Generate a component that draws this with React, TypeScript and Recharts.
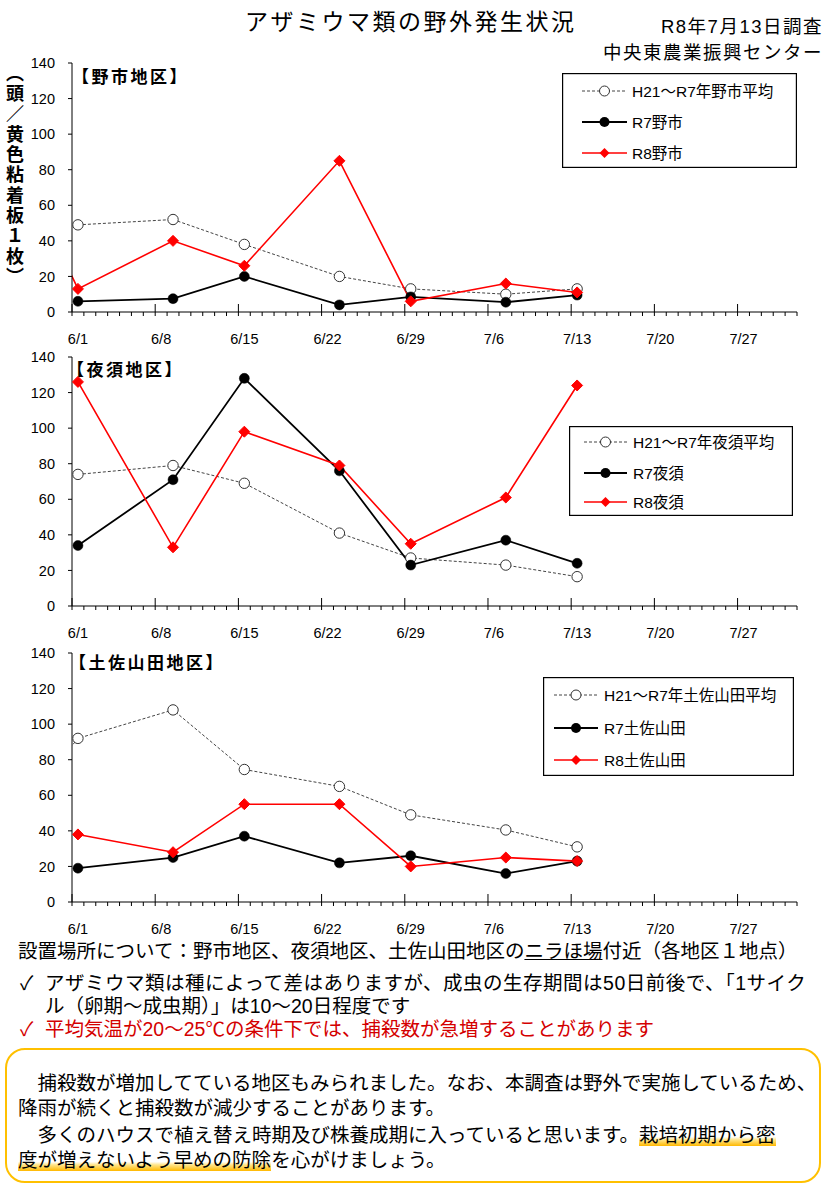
import React from "react";
import { Legend, Line, LineChart, XAxis, YAxis } from "recharts";

const FONT = '"Liberation Sans", "Noto Sans CJK JP", sans-serif';
const CJK = '"Noto Sans CJK JP", "Noto Sans", sans-serif';

// survey dates (the 5/26 point only shows as a stub at the left edge)
const surveyDates = ["5/26", "6/1", "6/9", "6/15", "6/23", "6/29", "7/7", "7/13"];
const weekLabels = ["6/1", "6/8", "6/15", "6/22", "6/29", "7/6", "7/13", "7/20", "7/27"];
const yTicks = [0, 20, 40, 60, 80, 100, 120, 140];

// 野市
const noichiAvg = [null, 49, 52, 38, 20, 13, 10, 13];
const noichiR7 = [null, 6, 7.5, 20, 4, 8.5, 5.5, 9.5];
const noichiR8 = [98, 13, 40, 26, 85, 6, 16, 11];

// 夜須
const yasuAvg = [null, 74, 79, 69, 41, 27, 23, 16.5];
const yasuR7 = [null, 34, 71, 128, 76, 23, 37, 24];
const yasuR8 = [null, 126, 33, 98, 79, 35, 61, 124];

// 土佐山田
const tosaAvg = [43, 92, 108, 74.5, 65, 49, 40.5, 31];
const tosaR7 = [null, 19, 25, 37, 22, 26, 16, 23];
const tosaR8 = [null, 38, 28, 55, 55, 20, 25, 23];

const dayOffset = (md: string) => {
  const [m, d] = md.split("/").map(Number);
  return (Date.UTC(2026, m - 1, d) - Date.UTC(2026, 5, 1)) / 86400000;
};

// one tick per day for the marks, labels centred in the day cell
const dayTicks = Array.from({ length: 62 }, (_, i) => i);
const labelTicks = weekLabels.map((l) => dayOffset(l) + 0.5);
const xTicks = [...dayTicks, ...labelTicks].sort((a, b) => a - b);

const renderDayTick = (props: any) => {
  const { x, y, payload } = props;
  const v: number = payload.value;
  if (Number.isInteger(v)) {
    const major = v % 7 === 0;
    return (
      <line key={`t${v}`} x1={x} x2={x} y1={major ? y - 8 : y} y2={y + 4} stroke="#000" strokeWidth={1} />
    );
  }
  const label = weekLabels.find((l) => dayOffset(l) + 0.5 === v) ?? "";
  return (
    <text key={`l${v}`} x={x} y={y + 32} textAnchor="middle" fontSize={14.5} fontFamily={FONT} fill="#000">
      {label}
    </text>
  );
};

const diamondDot = (props: any) => {
  const { cx, cy, index } = props;
  if (cx == null || cy == null) return <g key={`d${index}`} />;
  const s = 5.5;
  return (
    <path
      key={`d${index}`}
      d={`M${cx},${cy - s}L${cx + s},${cy}L${cx},${cy + s}L${cx - s},${cy}Z`}
      fill="#ff0000"
      stroke="#ff0000"
    />
  );
};

interface LegendGeom {
  left: number;
  top: number;
  w: number;
  h: number;
  rows: number[];
  x1: number;
  x2: number;
  tx: number;
}

function LegendBox({ names, g }: { names: string[]; g: LegendGeom }) {
  const mx = (g.x1 + g.x2) / 2;
  return (
    <svg width={g.w} height={g.h} style={{ display: "block" }}>
      <rect x={0.6} y={0.6} width={g.w - 1.2} height={g.h - 1.2} fill="#fff" stroke="#000" strokeWidth={1.2} />
      <line x1={g.x1} x2={g.x2} y1={g.rows[0]} y2={g.rows[0]} stroke="#444" strokeDasharray="3 2" />
      <circle cx={mx} cy={g.rows[0]} r={5} fill="#fff" stroke="#333" />
      <line x1={g.x1} x2={g.x2} y1={g.rows[1]} y2={g.rows[1]} stroke="#000" strokeWidth={1.8} />
      <circle cx={mx} cy={g.rows[1]} r={5} fill="#000" />
      <line x1={g.x1} x2={g.x2} y1={g.rows[2]} y2={g.rows[2]} stroke="#ff0000" strokeWidth={1.6} />
      <path
        d={`M${mx},${g.rows[2] - 5}L${mx + 5},${g.rows[2]}L${mx},${g.rows[2] + 5}L${mx - 5},${g.rows[2]}Z`}
        fill="#ff0000"
      />
      {names.map((n, i) => (
        <text key={n} x={g.tx} y={g.rows[i]} dominantBaseline="central" fontSize={15.5} fontFamily={FONT} fill="#000">
          {n}
        </text>
      ))}
    </svg>
  );
}

interface AreaProps {
  top: number;
  title: string;
  titleLeft: number;
  titleTop: number;
  names: string[];
  avg: (number | null)[];
  r7: (number | null)[];
  r8: (number | null)[];
  legend: LegendGeom;
}

function AreaChart({ top, title, titleLeft, titleTop, names, avg, r7, r8, legend }: AreaProps) {
  const data = surveyDates.map((d, i) => ({ x: dayOffset(d) + 0.5, avg: avg[i], r7: r7[i], r8: r8[i] }));
  return (
    <div style={{ position: "absolute", left: 0, top, width: 825, height: 300 }}>
      <LineChart width={825} height={300} data={data} margin={{ top: 13, right: 28, bottom: 0, left: 0 }}>
        <XAxis
          type="number"
          dataKey="x"
          domain={[0, 61]}
          ticks={xTicks}
          interval={0}
          allowDataOverflow
          height={38}
          tickSize={0}
          tickMargin={0}
          tickLine={false}
          axisLine={{ stroke: "#000" }}
          tick={renderDayTick}
        />
        <YAxis
          type="number"
          domain={[0, 140]}
          ticks={yTicks}
          interval={0}
          width={72}
          tickSize={4}
          tickMargin={13}
          axisLine={{ stroke: "#000" }}
          tickLine={{ stroke: "#000" }}
          tick={{ fontSize: 14.5, fill: "#000", fontFamily: FONT }}
        />
        <Legend
          layout="vertical"
          align="center"
          verticalAlign="middle"
          wrapperStyle={{ left: legend.left, top: legend.top, width: legend.w, height: legend.h }}
          content={() => <LegendBox names={names} g={legend} />}
        />
        <Line
          dataKey="avg"
          name={names[0]}
          stroke="#444"
          strokeWidth={1}
          strokeDasharray="3 2"
          dot={{ r: 5.2, fill: "#fff", stroke: "#333", strokeWidth: 1, strokeDasharray: "none" }}
          isAnimationActive={false}
        />
        <Line
          dataKey="r7"
          name={names[1]}
          stroke="#000"
          strokeWidth={1.8}
          dot={{ r: 5, fill: "#000", stroke: "#000", strokeWidth: 0.5 }}
          isAnimationActive={false}
        />
        <Line
          dataKey="r8"
          name={names[2]}
          stroke="#ff0000"
          strokeWidth={1.6}
          dot={diamondDot}
          isAnimationActive={false}
        />
      </LineChart>
      <div
        style={{
          position: "absolute",
          left: titleLeft,
          top: titleTop,
          fontSize: 17,
          lineHeight: "20px",
          fontWeight: 700,
          letterSpacing: 2.5,
          whiteSpace: "nowrap",
        }}
      >
        {title}
      </div>
    </div>
  );
}

const line = (top: number, left: number, extra?: React.CSSProperties): React.CSSProperties => ({
  position: "absolute",
  top,
  left,
  fontSize: 19.5,
  lineHeight: "20px",
  whiteSpace: "pre",
  ...extra,
});

const marker: React.CSSProperties = {
  background: "linear-gradient(to bottom, transparent 58%, #ffe58a 72%, #ffb800 100%)",
};

const IND = "\u3000";

export default function App() {
  return (
    <div
      style={{
        position: "absolute",
        left: 0,
        top: 0,
        width: 825,
        height: 1189,
        background: "#fff",
        fontFamily: FONT,
        color: "#000",
        overflow: "hidden",
      }}
    >
      <div style={{ position: "absolute", left: 245, top: 8, fontSize: 23, lineHeight: "28px", letterSpacing: 2.5, whiteSpace: "nowrap" }}>
        アザミウマ類の野外発生状況
      </div>
      <div style={{ position: "absolute", right: 2, top: 15, fontSize: 18.5, lineHeight: "24px", letterSpacing: 1.5, textAlign: "right", whiteSpace: "nowrap" }}>
        R8年7月13日調査
      </div>
      <div style={{ position: "absolute", right: 2, top: 41, fontSize: 18.5, lineHeight: "24px", letterSpacing: 1.5, textAlign: "right", whiteSpace: "nowrap" }}>
        中央東農業振興センター
      </div>
      <div
        style={{
          position: "absolute",
          left: 5,
          top: 64,
          width: 20,
          fontFamily: CJK,
          fontSize: 18,
          lineHeight: "20px",
          fontWeight: 700,
          letterSpacing: 2.3,
          writingMode: "vertical-rl",
          whiteSpace: "nowrap",
        }}
      >
        （頭／黄色粘着板１枚）
      </div>

      <AreaChart
        top={50}
        title="【野市地区】"
        titleLeft={72}
        titleTop={18}
        names={["H21～R7年野市平均", "R7野市", "R8野市"]}
        avg={noichiAvg}
        r7={noichiR7}
        r8={noichiR8}
        legend={{ left: 562, top: 23, w: 235, h: 95, rows: [18, 49, 80], x1: 20, x2: 65, tx: 70 }}
      />
      <AreaChart
        top={344}
        title="【夜須地区】"
        titleLeft={67}
        titleTop={17}
        names={["H21～R7年夜須平均", "R7夜須", "R8夜須"]}
        avg={yasuAvg}
        r7={yasuR7}
        r8={yasuR8}
        legend={{ left: 569, top: 82, w: 224, h: 90, rows: [16, 47, 76], x1: 15, x2: 58, tx: 64 }}
      />
      <AreaChart
        top={640}
        title="【土佐山田地区】"
        titleLeft={69}
        titleTop={14}
        names={["H21～R7年土佐山田平均", "R7土佐山田", "R8土佐山田"]}
        avg={tosaAvg}
        r7={tosaR7}
        r8={tosaR8}
        legend={{ left: 543, top: 37, w: 251, h: 99, rows: [18, 51, 83], x1: 11, x2: 55, tx: 61 }}
      />

      <div style={line(941, 18)}>
        設置場所について：野市地区、夜須地区、土佐山田地区の<span style={{ textDecoration: "underline" }}>ニラほ場</span>付近（各地区１地点）
      </div>
      <div style={line(973, 20)}>✓</div>
      <div style={line(973, 45, { letterSpacing: 0.5 })}>アザミウマ類は種によって差はありますが、成虫の生存期間は50日前後で、「1サイク</div>
      <div style={line(996, 45)}>ル（卵期～成虫期）」は10～20日程度です</div>
      <div style={line(1019, 20, { color: "#d40000" })}>✓</div>
      <div style={line(1019, 45, { color: "#d40000" })}>平均気温が20～25℃の条件下では、捕殺数が急増することがあります</div>

      <div
        style={{
          position: "absolute",
          left: 5,
          top: 1048,
          width: 812,
          height: 131,
          border: "2.5px solid #ffc000",
          borderRadius: 20,
        }}
      />
      <div style={line(1073, 18)}>{IND + "捕殺数が増加してている地区もみられました。なお、本調査は野外で実施しているため、"}</div>
      <div style={line(1098, 18)}>降雨が続くと捕殺数が減少することがあります。</div>
      <div style={line(1125, 18)}>
        {IND + "多くのハウスで植え替え時期及び株養成期に入っていると思います。"}
        <span style={marker}>栽培初期から密</span>
      </div>
      <div style={line(1150, 18)}>
        <span style={marker}>度が増えないよう早めの防除</span>を心がけましょう。
      </div>
    </div>
  );
}
